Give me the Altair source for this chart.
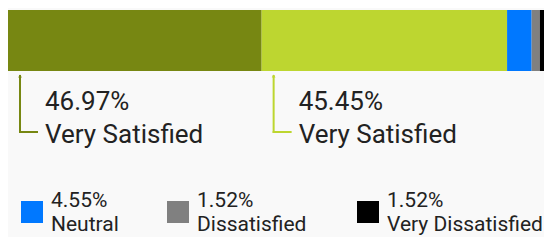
import altair as alt
import pandas as pd

categories = ["Very Satisfied", "Satisfied", "Neutral", "Dissatisfied", "Very Dissatisfied"]
values = [46.97, 45.45, 4.55, 1.52, 1.52]
colors = ["#778712", "#bdd630", "#0078ff", "#808080", "#000000"]
callout_names = ["Very Satisfied", "Very Satisfied", "", "", ""]
show_callout = [True, True, False, False, False]
legend_items = ["Neutral", "Dissatisfied", "Very Dissatisfied"]

starts = []
acc = 0.0
for v in values:
    starts.append(acc)
    acc += v
df = pd.DataFrame({
    "category": categories,
    "value": values,
    "start": starts,
    "end": [s + v for s, v in zip(starts, values)],
    "pct": [f"{v:.2f}%" for v in values],
    "name": callout_names,
    "callout": show_callout,
})

FONT = "Roboto"
TEXT = "#222222"

xscale = alt.Scale(domain=[0, 100], range=[0, 540], nice=False, zero=False)
cscale = alt.Scale(domain=categories, range=colors)
color_enc = alt.Color("category:N", scale=cscale, legend=None)

bars = alt.Chart(df).mark_bar().encode(
    x=alt.X("start:Q", scale=xscale, axis=None),
    x2="end:Q",
    y=alt.value(2),
    y2=alt.value(63),
    color=color_enc,
)

callouts = alt.Chart(df).transform_filter("datum.callout")

vline = callouts.mark_rule(strokeWidth=2, xOffset=12, x2Offset=12).encode(
    x=alt.X("start:Q", scale=xscale),
    y=alt.value(67),
    y2=alt.value(125),
    color=color_enc,
)
hline = callouts.mark_rule(strokeWidth=2, xOffset=11, x2Offset=30).encode(
    x=alt.X("start:Q", scale=xscale),
    x2="start:Q",
    y=alt.value(124),
    color=color_enc,
)
tip = callouts.mark_point(shape="triangle-up", filled=True, size=14, opacity=1, xOffset=12).encode(
    x=alt.X("start:Q", scale=xscale),
    y=alt.value(68),
    color=color_enc,
)
pct_text = callouts.mark_text(align="left", baseline="alphabetic", dx=37, font=FONT, fontSize=26, color=TEXT).encode(
    x=alt.X("start:Q", scale=xscale),
    y=alt.value(102),
    text="pct:N",
)
name_text = callouts.mark_text(align="left", baseline="alphabetic", dx=37, font=FONT, fontSize=26, color=TEXT).encode(
    x=alt.X("start:Q", scale=xscale),
    y=alt.value(135),
    text="name:N",
)

# hand-built legend (layout constants: left edge of each swatch)
legend_left = [13, 159, 349]
legend_layers = []
for item, left in zip(legend_items, legend_left):
    base = alt.Chart(df).transform_filter(alt.datum.category == item)
    legend_layers.append(
        base.mark_rect().encode(
            x=alt.value(left), x2=alt.value(left + 22),
            y=alt.value(193), y2=alt.value(215),
            color=color_enc,
        )
    )
    legend_layers.append(
        base.mark_text(align="left", baseline="alphabetic", font=FONT, fontSize=21, color=TEXT).encode(
            x=alt.value(left + 30), y=alt.value(199), text="pct:N",
        )
    )
    legend_layers.append(
        base.mark_text(align="left", baseline="alphabetic", font=FONT, fontSize=21, color=TEXT).encode(
            x=alt.value(left + 30), y=alt.value(223), text="category:N",
        )
    )

chart = alt.layer(bars, vline, hline, tip, pct_text, name_text, *legend_layers).properties(
    width=536,
    height=229,
    autosize=alt.AutoSizeParams(type="none"),
    padding=0,
    background="#f9f9f9",
).configure_view(strokeWidth=0)

chart.save("out.html", embed_options={"renderer": "svg", "actions": False})
